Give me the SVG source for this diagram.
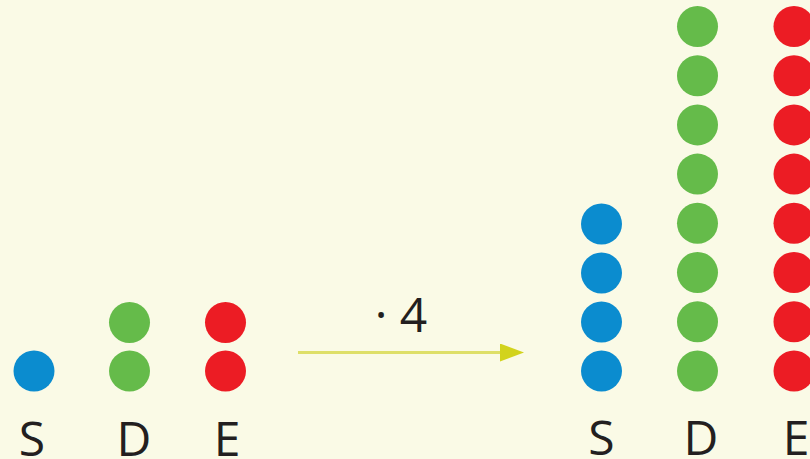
<svg xmlns="http://www.w3.org/2000/svg" width="810" height="459" viewBox="0 0 810 459">
<defs>
<style>
.s{fill:#0b8ccf}.d{fill:#65bb4a}.e{fill:#ec1c24}
.t{font-family:"Open Sans","Liberation Sans",sans-serif;font-size:48px;fill:#231f20;text-anchor:middle}
</style>
<marker id="ah" markerWidth="8" markerHeight="6" refX="0" refY="3" orient="auto" markerUnits="strokeWidth"><path d="M0,0L8,3L0,6z" fill="#d2d31c"/></marker>
</defs>
<rect width="810" height="459" fill="#fafae6"/>
<g id="left-S"><circle class="s" cx="34" cy="371" r="20.5"/><text class="t" x="32" y="456">S</text></g>
<g id="left-D"><circle class="d" cx="129.5" cy="322.5" r="20.5"/><circle class="d" cx="129.5" cy="371" r="20.5"/><text class="t" x="134" y="456">D</text></g>
<g id="left-E"><circle class="e" cx="225.5" cy="322.5" r="20.5"/><circle class="e" cx="225.5" cy="371" r="20.5"/><text class="t" x="227" y="456">E</text></g>
<g id="connectors">
<line x1="298" y1="352.5" x2="500" y2="352.5" stroke="#dedf68" stroke-width="3" marker-end="url(#ah)"/>
<text class="t" x="401" y="332">· 4</text>
</g>
<g id="right-S">
<circle class="s" cx="601.5" cy="224" r="20.5"/><circle class="s" cx="601.5" cy="273" r="20.5"/><circle class="s" cx="601.5" cy="322" r="20.5"/><circle class="s" cx="601.5" cy="371" r="20.5"/>
<text class="t" x="601.5" y="455">S</text></g>
<g id="right-D">
<circle class="d" cx="697.5" cy="26.5" r="20.5"/><circle class="d" cx="697.5" cy="75.7" r="20.5"/><circle class="d" cx="697.5" cy="124.9" r="20.5"/><circle class="d" cx="697.5" cy="174.1" r="20.5"/><circle class="d" cx="697.5" cy="223.3" r="20.5"/><circle class="d" cx="697.5" cy="272.5" r="20.5"/><circle class="d" cx="697.5" cy="321.7" r="20.5"/><circle class="d" cx="697.5" cy="371" r="20.5"/>
<text class="t" x="701" y="455">D</text></g>
<g id="right-E">
<circle class="e" cx="794" cy="26.5" r="20.5"/><circle class="e" cx="794" cy="75.7" r="20.5"/><circle class="e" cx="794" cy="124.9" r="20.5"/><circle class="e" cx="794" cy="174.1" r="20.5"/><circle class="e" cx="794" cy="223.3" r="20.5"/><circle class="e" cx="794" cy="272.5" r="20.5"/><circle class="e" cx="794" cy="321.7" r="20.5"/><circle class="e" cx="794" cy="371" r="20.5"/>
<text class="t" x="796" y="455">E</text></g>
</svg>
